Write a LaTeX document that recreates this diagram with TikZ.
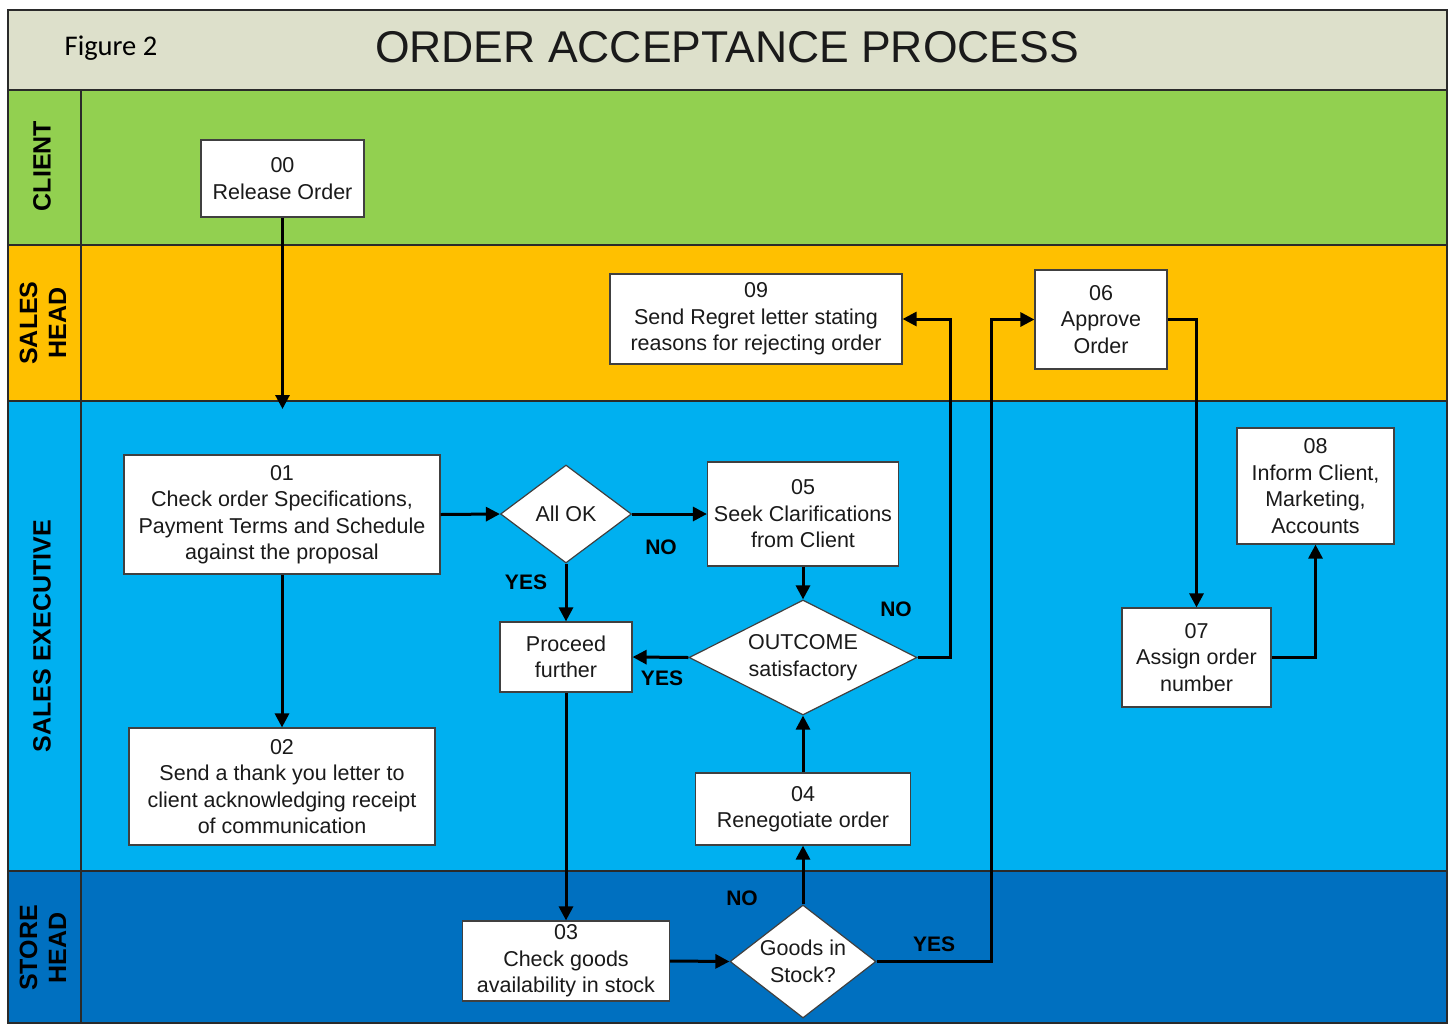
\documentclass[tikz,border=0pt]{standalone}
\usepackage{fontspec}
\setmainfont{Liberation Sans}
\newfontfamily\myCalibri{Carlito}
\usetikzlibrary{shapes.geometric,arrows.meta}
\definecolor{titlebg}{HTML}{DDE0CB}
\definecolor{clientbg}{HTML}{92D050}
\definecolor{salesheadbg}{HTML}{FFC000}
\definecolor{salesexecbg}{HTML}{00B0F0}
\definecolor{storeheadbg}{HTML}{0070C0}
\definecolor{laneline}{HTML}{2A2A2A}
\definecolor{boxline}{HTML}{404040}
\definecolor{txt}{HTML}{1A1A1A}
\newcommand\myNodeFont{\fontsize{21.5}{26.5}\selectfont}
\newcommand\myLblFont{\fontsize{21}{24}\selectfont\bfseries}
\newcommand\myLaneFont{\fontsize{25}{29}\selectfont\bfseries}
\begin{document}
\begin{tikzpicture}[x=1pt,y=-1pt,
  box/.style={draw=boxline, line width=1.2pt, fill=white, inner sep=0pt, align=center, font=\myNodeFont, text=txt},
  dia/.style={box, diamond},
  conn/.style={line width=3pt, draw=black, -{Triangle[length=14pt,width=14pt]}},
  lbl/.style={font=\myLblFont, text=black, inner sep=0pt},
  lanetxt/.style={font=\myLaneFont, text=black, rotate=90, align=center, inner sep=0pt},
  lane/.style={draw=laneline, line width=1.2pt}]
\useasboundingbox (0,0) rectangle (1454,1023);
\fill[white] (0,0) rectangle (1454,1023);
% lanes
\filldraw[lane, fill=titlebg] (8,10) rectangle (1447,90);
\filldraw[lane, fill=clientbg] (8,90) rectangle (1447,245);
\filldraw[lane, fill=salesheadbg] (8,245) rectangle (1447,401);
\filldraw[lane, fill=salesexecbg] (8,401) rectangle (1447,871);
\filldraw[lane, fill=storeheadbg] (8,871) rectangle (1447,1023);
\draw[lane] (81,90) -- (81,1023);
% titles
\node[font=\myCalibri\fontsize{28.5}{31}\selectfont, text=black, inner sep=0pt] (fig) at (111,48) {Figure 2};
\node[font=\fontsize{44.5}{48}\selectfont, text=txt, inner sep=0pt] (title) at (727,47) {ORDER ACCEPTANCE PROCESS};
% lane labels
\node[lanetxt] (lclient) at (42,166) {CLIENT};
\node[lanetxt] (lsh) at (43,323) {SALES\\HEAD};
\node[lanetxt] (lse) at (42,636) {SALES EXECUTIVE};
\node[lanetxt] (lst) at (43,948) {STORE\\HEAD};
% nodes
\node[box, minimum width=163, minimum height=77] (n00) at (282.5,178.5) {00\\Release Order};
\node[box, minimum width=292, minimum height=90] (n09) at (756,319) {09\\Send Regret letter stating\\reasons for rejecting order};
\node[box, minimum width=132, minimum height=99] (n06) at (1101,319.5) {06\\Approve\\Order};
\node[box, minimum width=316, minimum height=119] (n01) at (282,514.5) {01\\Check order Specifications,\\Payment Terms and Schedule\\against the proposal};
\node[dia, minimum width=131, minimum height=98, aspect=1.34] (allok) at (566,514) {All OK};
\node[box, minimum width=191, minimum height=104] (n05) at (803,514) {05\\Seek Clarifications\\from Client};
\node[dia, minimum width=228, minimum height=115, aspect=2] (out) at (803,657.5) {OUTCOME\\satisfactory};
\node[box, minimum width=132, minimum height=70] (proc) at (566,657) {Proceed\\further};
\node[box, minimum width=306, minimum height=117] (n02) at (282,786.5) {02\\Send a thank you letter to\\client acknowledging receipt\\of communication};
\node[box, minimum width=215, minimum height=72] (n04) at (803,809) {04\\Renegotiate order};
\node[box, minimum width=157, minimum height=116] (n08) at (1315.5,486) {08\\Inform Client,\\Marketing,\\Accounts};
\node[box, minimum width=149, minimum height=99] (n07) at (1196.5,657.5) {07\\Assign order\\number};
\node[box, minimum width=207, minimum height=80] (n03) at (566,961) {03\\Check goods\\availability in stock};
\node[dia, minimum width=146, minimum height=113, aspect=1.3, inner sep=-7pt] (goods) at (803,961.5) {Goods in\\Stock?};
\coordinate (c1) at (282.5,409);
% connectors
\draw[conn] (n00.south) -- (c1);
\draw[conn] (n01.east) -- (allok.west);
\draw[conn] (allok.east) -- (n05.west);
\draw[conn] (allok.south) -- (proc.north);
\draw[conn] (n05.south) -- (out.north);
\draw[conn] (out.west) -- (proc.east);
\draw[conn] (out.east) -- ++(33,0) |- (n09.east);
\draw[conn] (n01.south) -- (n02.north);
\draw[conn] (proc.south) -- (n03.north);
\draw[conn] (n03.east) -- (goods.west);
\draw[conn] (goods.north) -- (n04.south);
\draw[conn] (n04.north) -- (out.south);
\draw[conn] (goods.east) -- ++(115,0) |- (n06.west);
\draw[conn] (n06.east) -| (n07.north);
\draw[conn] (n07.east) -| (n08.south);
% labels
\node[lbl] (lno1) at (661,547) {NO};
\node[lbl] (lyes1) at (526,582) {YES};
\node[lbl] (lno2) at (896,609) {NO};
\node[lbl] (lyes2) at (662,678) {YES};
\node[lbl] (lno3) at (742,898) {NO};
\node[lbl] (lyes3) at (934,944) {YES};
\end{tikzpicture}
\end{document}
